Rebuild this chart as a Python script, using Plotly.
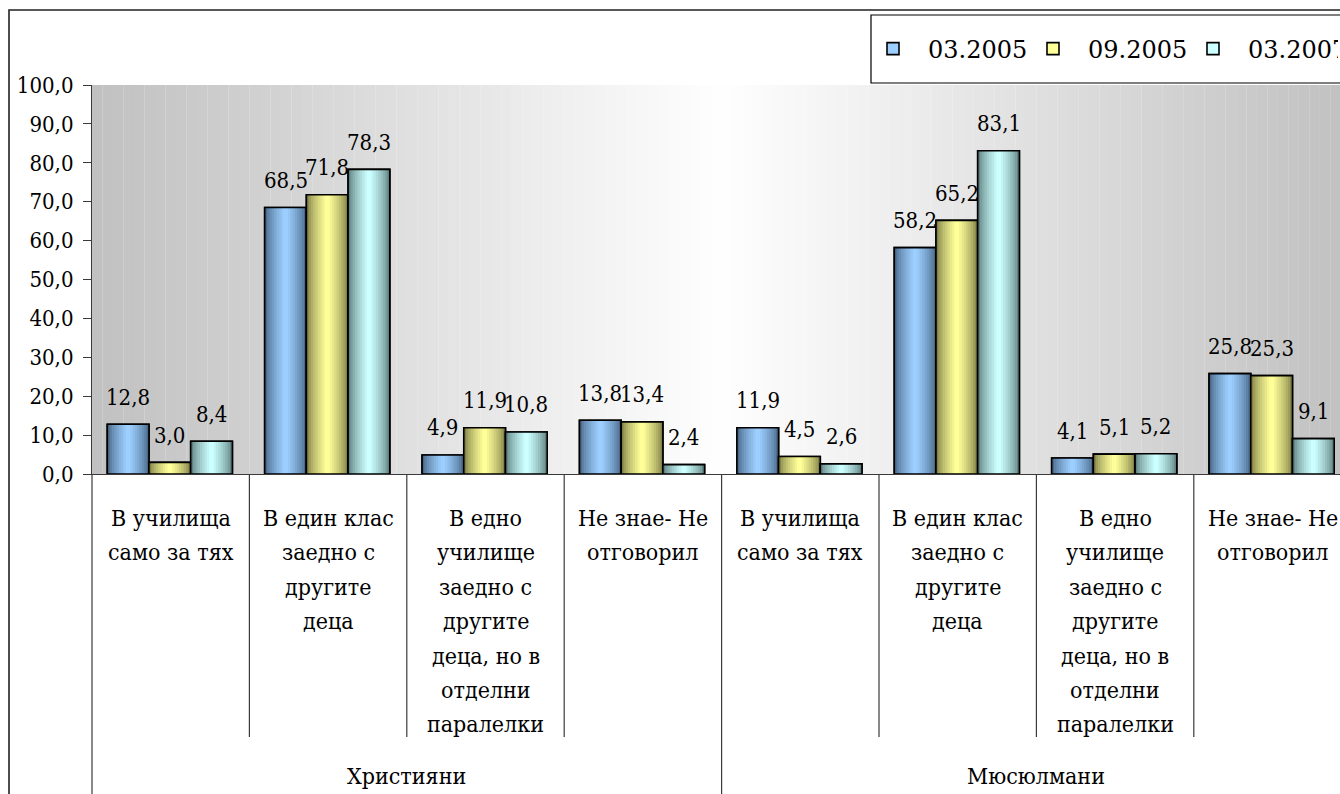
import plotly.graph_objects as go

# ---------------- data ----------------
groups = ["Християни", "Мюсюлмани"]
inner_labels = [
    "В училища\nсамо за тях",
    "В един клас\nзаедно с\nдругите\nдеца",
    "В едно\nучилище\nзаедно с\nдругите\nдеца, но в\nотделни\nпаралелки",
    "Не знае- Не\nотговорил",
]
series_names = ["03.2005", "09.2005", "03.2007"]
s_0305 = [12.8, 68.5, 4.9, 13.8, 11.9, 58.2, 4.1, 25.8]
s_0905 = [3.0, 71.8, 11.9, 13.4, 4.5, 65.2, 5.1, 25.3]
s_0307 = [8.4, 78.3, 10.8, 2.4, 2.6, 83.1, 5.2, 9.1]
series_values = [s_0305, s_0905, s_0307]
y_ticks = [0, 10, 20, 30, 40, 50, 60, 70, 80, 90, 100]

# ---------------- styling ----------------
F_C = "DejaVu Serif Condensed"
F_S = "DejaVu Serif"
W, H = 1340, 794
ML, MT, MB = 92, 85, 320
PW = W - ML
PH = H - MT - MB
light = [(0x9C, 0xCF, 0xFF), (0xFF, 0xFF, 0x99), (0xCC, 0xFF, 0xFF)]
dark = [(0x4A, 0x68, 0x88), (0x80, 0x80, 0x48), (0x60, 0x80, 0x80)]
bar_w = 0.265
offsets = [-0.403, -0.138, 0.127]
XR = [-0.5, -0.5 + PW / 157.4]

n_cat = len(groups) * len(inner_labels)
xs = list(range(n_cat))

fig = go.Figure()

def rgb(c):
    return "rgb(%d,%d,%d)" % c

N = 9
for si, (name, vals) in enumerate(zip(series_names, series_values)):
    fig.add_trace(go.Bar(
        x=xs, y=vals, name=name, width=[bar_w] * n_cat, offset=[offsets[si]] * n_cat,
        marker=dict(color=rgb(light[si]), line=dict(color="black", width=1.6)),
        legendgroup=name, showlegend=True,
    ))
    for k in range(N):
        t = (k / (N - 1)) ** 0.7
        c = tuple(int(round(dark[si][j] + (light[si][j] - dark[si][j]) * t)) for j in range(3))
        w = bar_w * (1 - k / N)
        off = offsets[si] + bar_w * k / (2 * N)
        fig.add_trace(go.Bar(
            x=xs, y=vals, name=name, width=[w] * n_cat, offset=[off] * n_cat,
            marker=dict(color=rgb(c), line=dict(width=0)),
            showlegend=False, legendgroup=name, hoverinfo="skip",
        ))
    fig.add_trace(go.Bar(
        x=xs, y=vals, name=name, width=[bar_w] * n_cat, offset=[offsets[si]] * n_cat,
        marker=dict(color="rgba(0,0,0,0)", line=dict(color="black", width=1.6)),
        showlegend=False, legendgroup=name, hoverinfo="skip",
    ))

for si, vals in enumerate(series_values):
    for i, v in enumerate(vals):
        fig.add_annotation(x=i + offsets[si] + bar_w / 2, y=v, xref="x", yref="y",
                           text=f"{v:.1f}".replace(".", ","), showarrow=False,
                           yshift=27, font=dict(family=F_C, size=22, color="black"))

NS = 120
for k in range(NS):
    x0 = -0.5 + 8 * k / NS
    x1 = -0.5 + 8 * (k + 1) / NS
    xm = (x0 + x1) / 2
    d = abs(xm - 3.5) / 4.0
    g = int(round(255 - (255 - 192) * d))
    fig.add_shape(type="rect", xref="x", yref="paper", x0=x0, x1=x1 + 0.001, y0=0, y1=1,
                  fillcolor=f"rgb({g},{g},{g})", line=dict(width=0), layer="below")

def px_to_py(py):
    return (MT + PH - py) / PH

def px_to_px(px):
    return (px - ML) / PW

def cx_to_px(cx):
    return (cx - XR[0]) / (XR[1] - XR[0])

n_in = len(inner_labels)
for gi, gname in enumerate(groups):
    for ii, lab in enumerate(inner_labels):
        ci = gi * n_in + ii
        for j, line in enumerate(lab.split("\n")):
            fig.add_annotation(x=ci, y=px_to_py(518 + 34.4 * j), xref="x", yref="paper",
                               text=line, showarrow=False, yanchor="middle",
                               font=dict(family=F_C, size=23, color="black"))
    fig.add_annotation(x=gi * n_in + (n_in - 1) / 2, y=px_to_py(776), xref="x", yref="paper",
                       text=gname, showarrow=False, yanchor="middle",
                       font=dict(family=F_C, size=23, color="black"))

for b in range(n_cat + 1):
    bx = b - 0.5
    is_group = (b % n_in == 0)
    fig.add_shape(type="line", xref="paper", yref="paper",
                  x0=cx_to_px(bx), x1=cx_to_px(bx), y0=0,
                  y1=px_to_py(820 if is_group else 737),
                  line=dict(color="#3a3a3a", width=1.2))

fig.add_shape(type="rect", xref="paper", yref="paper",
              x0=px_to_px(9), x1=1.2, y0=px_to_py(900), y1=px_to_py(10),
              line=dict(color="#222222", width=1.6), fillcolor="rgba(0,0,0,0)")
fig.add_shape(type="rect", xref="paper", yref="paper",
              x0=px_to_px(871), x1=px_to_px(1420), y0=px_to_py(83), y1=px_to_py(15),
              line=dict(color="black", width=1.2), fillcolor="white", layer="above")

fig.update_layout(
    width=W, height=H,
    margin=dict(l=ML, r=0, t=MT, b=MB, pad=0, autoexpand=False),
    paper_bgcolor="white", plot_bgcolor="rgba(0,0,0,0)",
    barmode="overlay", separators=", ",
    font=dict(family=F_C, size=22, color="black"),
    showlegend=True,
    legend=dict(orientation="h", x=px_to_px(858), xanchor="left",
                y=px_to_py(49), yanchor="middle",
                bgcolor="rgba(0,0,0,0)", borderwidth=0,
                font=dict(family=F_S, size=24, color="black"),
                itemwidth=60, entrywidth=85, itemclick=False, itemdoubleclick=False),
    xaxis=dict(range=XR, showticklabels=False, showgrid=False, zeroline=False,
               showline=True, linecolor="#3a3a3a", linewidth=1.2, ticks=""),
    yaxis=dict(range=[0, 100], tickvals=y_ticks, tickformat=".1f", showgrid=False,
               zeroline=False, showline=True, linecolor="#3a3a3a", linewidth=1.2,
               ticks="outside", ticklen=8, tickcolor="#3a3a3a", ticklabelstandoff=5,
               tickfont=dict(family=F_C, size=22, color="black")),
)

fig.write_html("out.html", config={"displayModeBar": False},
               post_script="document.body.style.margin='0px';document.body.style.overflow='hidden';")
